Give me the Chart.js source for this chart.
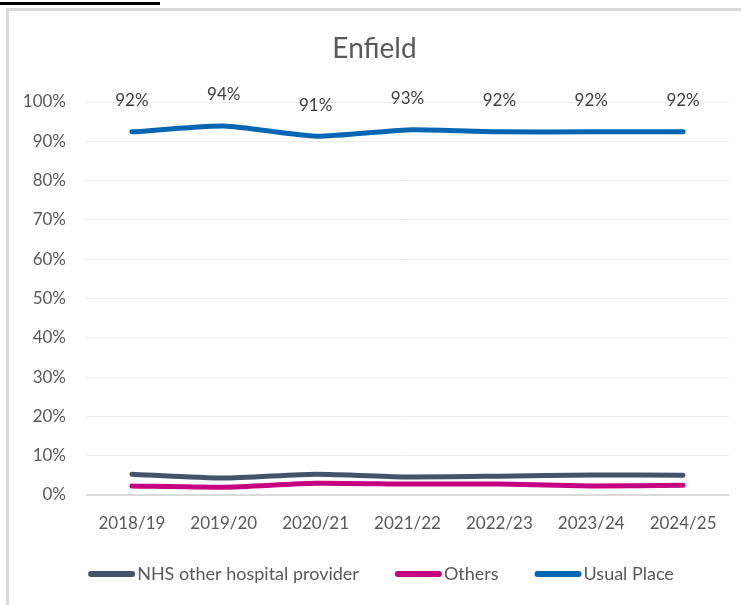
<!DOCTYPE html>
<html>
<head>
<meta charset="utf-8">
<script src="https://cdn.jsdelivr.net/npm/chart.js@4"></script>
<style>
  html, body { margin: 0; padding: 0; background: #fff; width: 741px; height: 605px; overflow: hidden; }
  #topline { position: absolute; left: 0; top: 2px; width: 160px; height: 3px; background: #000; }
  #frame { position: absolute; left: 6px; top: 8px; width: 740px; height: 600px; border-left: 3px solid #d9d9d9; border-top: 3px solid #d9d9d9; }
  #wrap { position: absolute; left: 0; top: 0; width: 741px; height: 605px; }
</style>
</head>
<body>
<div id="topline"></div>
<div id="frame"></div>
<div id="wrap"><canvas id="c" width="741" height="605"></canvas></div>
<script>
const categories = ["2018/19", "2019/20", "2020/21", "2021/22", "2022/23", "2023/24", "2024/25"];
const nhsOther = [5.3, 4.3, 5.3, 4.6, 4.8, 5.1, 5.0];
const others = [2.3, 2.0, 3.0, 2.8, 2.8, 2.3, 2.5];
const usualPlace = [92.4, 93.9, 91.3, 92.9, 92.4, 92.4, 92.4];
const yTicks = [0, 10, 20, 30, 40, 50, 60, 70, 80, 90, 100];
const seriesNames = ["NHS other hospital provider", "Others", "Usual Place"];
const seriesColors = ["#44546A", "#C5027F", "#0567B3"];

const FONT = "Lato, 'Open Sans', sans-serif";

const labelPlugin = {
  id: 'usualLabels',
  afterDatasetsDraw(chart) {
    const ctx = chart.ctx;
    const meta = chart.getDatasetMeta(2);
    ctx.save();
    ctx.font = "17px " + FONT;
    ctx.fillStyle = "#404040";
    ctx.textAlign = "center";
    ctx.textBaseline = "middle";
    meta.data.forEach((pt, i) => {
      ctx.fillText(Math.round(usualPlace[i]) + "%", pt.x, pt.y - 31);
    });
    ctx.restore();
  }
};

const legendPlugin = {
  id: 'customLegend',
  afterDraw(chart) {
    const ctx = chart.ctx;
    ctx.save();
    ctx.font = "18px " + FONT;
    ctx.textBaseline = "middle";
    const swatch = 47, gap = 2, itemGap = 36;
    const widths = chart.data.datasets.map(d => swatch + gap + ctx.measureText(d.label).width);
    const total = widths.reduce((a, b) => a + b, 0) + itemGap * (widths.length - 1);
    let x = 381 - total / 2;
    const y = 574;
    chart.data.datasets.forEach((d, i) => {
      ctx.strokeStyle = d.borderColor;
      ctx.lineWidth = 6;
      ctx.lineCap = "round";
      ctx.beginPath();
      ctx.moveTo(x + 3, y);
      ctx.lineTo(x + swatch - 3, y);
      ctx.stroke();
      ctx.fillStyle = "#595959";
      ctx.textAlign = "left";
      ctx.fillText(d.label, x + swatch + gap, y);
      x += widths[i] + itemGap;
    });
    ctx.restore();
  }
};

const mk = (label, data, color) => ({
  label, data,
  borderColor: color, backgroundColor: color,
  borderWidth: 5, pointRadius: 0, tension: 0.2,
  borderCapStyle: 'round', borderJoinStyle: 'round', fill: false
});

new Chart(document.getElementById('c'), {
  type: 'line',
  data: {
    labels: categories,
    datasets: [
      mk(seriesNames[0], nhsOther, seriesColors[0]),
      mk(seriesNames[1], others, seriesColors[1]),
      mk(seriesNames[2], usualPlace, seriesColors[2])
    ]
  },
  options: {
    responsive: false,
    animation: false,
    events: [],
    layout: { padding: { left: 20, right: 12, top: 20, bottom: 70 } },
    plugins: {
      legend: { display: false },
      tooltip: { enabled: false },
      title: {
        display: true, text: "Enfield",
        color: "#595959",
        font: { family: FONT, size: 28, weight: 'normal' },
        padding: { top: 12, bottom: 36.4 }
      }
    },
    scales: {
      x: {
        offset: true,
        grid: { display: false, drawTicks: false },
        border: { display: false },
        ticks: { color: "#595959", font: { family: FONT, size: 17 }, padding: 18, maxRotation: 0 },
        afterFit(s) { s.height = 40; }
      },
      y: {
        min: 0, max: 100,
        afterBuildTicks(s) { s.ticks = yTicks.map(v => ({ value: v })); },
        grid: {
          drawTicks: false,
          color: c => c.tick && c.tick.value === 0 ? "#d9d9d9" : "#ececec",
          lineWidth: c => c.tick && c.tick.value === 0 ? 2 : 1
        },
        border: { display: false },
        ticks: { color: "#595959", font: { family: FONT, size: 17 }, padding: 20, callback: v => v + "%" },
        afterFit(s) { s.width = 66; }
      }
    }
  },
  plugins: [labelPlugin, legendPlugin]
});
</script>
</body>
</html>
